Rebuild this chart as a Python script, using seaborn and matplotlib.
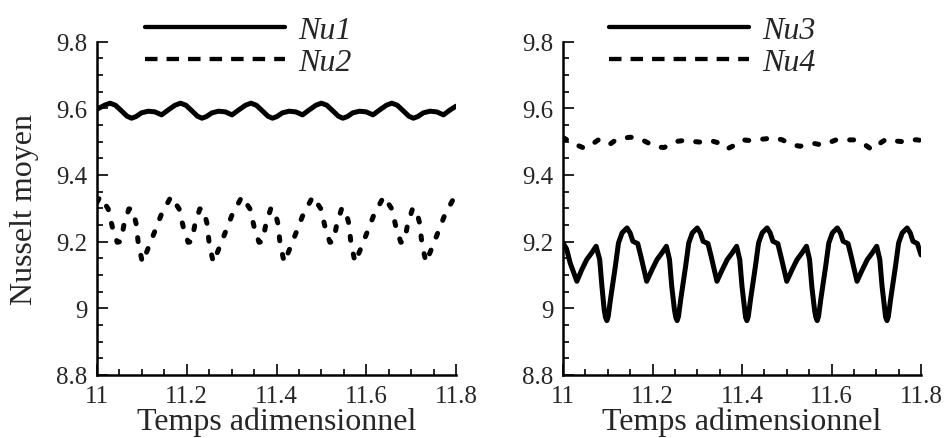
import matplotlib
matplotlib.use("Agg")
import matplotlib.pyplot as plt
import seaborn as sns
from matplotlib.ticker import MultipleLocator, FormatStrFormatter

# ---- donnees ----
nu1_t = [11.000, 11.017,
         11.029, 11.041, 11.053, 11.067, 11.077, 11.087, 11.099, 11.114, 11.129, 11.144, 11.159, 11.174,
         11.186, 11.198, 11.210, 11.224, 11.234, 11.244, 11.256, 11.271, 11.286, 11.301, 11.316, 11.331,
         11.343, 11.355, 11.367, 11.381, 11.391, 11.401, 11.413, 11.428, 11.443, 11.458, 11.473, 11.488,
         11.500, 11.512, 11.524, 11.538, 11.548, 11.558, 11.570, 11.585, 11.600, 11.615, 11.630, 11.645,
         11.657, 11.669, 11.681, 11.695, 11.705, 11.715, 11.727, 11.742, 11.757, 11.772, 11.787, 11.800]
nu1_v = [9.597, 9.609,
         9.615, 9.609, 9.594, 9.576, 9.570, 9.575, 9.586, 9.591, 9.589, 9.580, 9.595, 9.609,
         9.615, 9.609, 9.594, 9.576, 9.570, 9.575, 9.586, 9.591, 9.589, 9.580, 9.595, 9.609,
         9.615, 9.609, 9.594, 9.576, 9.570, 9.575, 9.586, 9.591, 9.589, 9.580, 9.595, 9.609,
         9.615, 9.609, 9.594, 9.576, 9.570, 9.575, 9.586, 9.591, 9.589, 9.580, 9.595, 9.609,
         9.615, 9.609, 9.594, 9.576, 9.570, 9.575, 9.586, 9.591, 9.589, 9.580, 9.595, 9.606]

nu2_t = [11.000, 11.007, 11.025, 11.034, 11.045, 11.053, 11.060, 11.071, 11.079, 11.087, 11.092, 11.101, 11.111, 11.128, 11.143,
         11.165, 11.183, 11.192, 11.203, 11.211, 11.218, 11.229, 11.237, 11.245, 11.250, 11.259, 11.269, 11.286, 11.301,
         11.323, 11.341, 11.350, 11.361, 11.369, 11.376, 11.387, 11.395, 11.403, 11.408, 11.417, 11.427, 11.444, 11.459,
         11.481, 11.499, 11.508, 11.519, 11.527, 11.534, 11.545, 11.553, 11.561, 11.566, 11.575, 11.585, 11.602, 11.617,
         11.639, 11.657, 11.666, 11.677, 11.685, 11.692, 11.703, 11.711, 11.719, 11.724, 11.733, 11.743, 11.760, 11.775,
         11.797, 11.800]
nu2_v = [9.318, 9.335, 9.298, 9.245, 9.198, 9.200, 9.250, 9.298, 9.298, 9.255, 9.195, 9.138, 9.170, 9.228, 9.280,
         9.335, 9.298, 9.245, 9.198, 9.200, 9.250, 9.298, 9.298, 9.255, 9.195, 9.138, 9.170, 9.228, 9.280,
         9.335, 9.298, 9.245, 9.198, 9.200, 9.250, 9.298, 9.298, 9.255, 9.195, 9.138, 9.170, 9.228, 9.280,
         9.335, 9.298, 9.245, 9.198, 9.200, 9.250, 9.298, 9.298, 9.255, 9.195, 9.138, 9.170, 9.228, 9.280,
         9.335, 9.298, 9.245, 9.198, 9.200, 9.250, 9.298, 9.298, 9.255, 9.195, 9.138, 9.170, 9.228, 9.280,
         9.335, 9.333]

nu3_t = [11.000, 11.008, 11.016, 11.031, 11.042, 11.053, 11.064, 11.074, 11.082, 11.087, 11.092, 11.095,
         11.098, 11.101, 11.106, 11.117, 11.124, 11.132, 11.143, 11.150, 11.156, 11.167, 11.174, 11.187, 11.199, 11.210, 11.221, 11.231, 11.238, 11.243, 11.249, 11.252,
         11.255, 11.258, 11.263, 11.274, 11.281, 11.289, 11.300, 11.307, 11.313, 11.324, 11.331, 11.344, 11.356, 11.367, 11.378, 11.388, 11.395, 11.400, 11.406, 11.408,
         11.411, 11.414, 11.419, 11.430, 11.437, 11.445, 11.456, 11.463, 11.469, 11.480, 11.487, 11.500, 11.512, 11.523, 11.534, 11.544, 11.551, 11.556, 11.562, 11.565,
         11.568, 11.571, 11.576, 11.587, 11.594, 11.602, 11.613, 11.620, 11.626, 11.637, 11.644, 11.657, 11.669, 11.680, 11.691, 11.701, 11.708, 11.713, 11.719, 11.721,
         11.724, 11.727, 11.732, 11.743, 11.750, 11.758, 11.769, 11.776, 11.782, 11.792, 11.800]
nu3_v = [9.196, 9.178, 9.136, 9.081, 9.116, 9.146, 9.166, 9.186, 9.146, 9.066, 8.996, 8.973,
         8.963, 8.975, 9.026, 9.126, 9.196, 9.226, 9.241, 9.226, 9.201, 9.194, 9.156, 9.081, 9.116, 9.146, 9.166, 9.186, 9.146, 9.066, 8.996, 8.973,
         8.963, 8.975, 9.026, 9.126, 9.196, 9.226, 9.241, 9.226, 9.201, 9.194, 9.156, 9.081, 9.116, 9.146, 9.166, 9.186, 9.146, 9.066, 8.996, 8.973,
         8.963, 8.975, 9.026, 9.126, 9.196, 9.226, 9.241, 9.226, 9.201, 9.194, 9.156, 9.081, 9.116, 9.146, 9.166, 9.186, 9.146, 9.066, 8.996, 8.973,
         8.963, 8.975, 9.026, 9.126, 9.196, 9.226, 9.241, 9.226, 9.201, 9.194, 9.156, 9.081, 9.116, 9.146, 9.166, 9.186, 9.146, 9.066, 8.996, 8.973,
         8.963, 8.975, 9.026, 9.126, 9.196, 9.226, 9.241, 9.226, 9.201, 9.194, 9.160]

nu4_t = [11.000, 11.013, 11.030, 11.048, 11.065, 11.080, 11.095, 11.105, 11.118, 11.135,
         11.150, 11.170, 11.190, 11.210, 11.225, 11.240, 11.257, 11.275, 11.292, 11.310,
         11.330, 11.350, 11.367, 11.385, 11.402, 11.418, 11.435, 11.452, 11.470, 11.490,
         11.512, 11.530, 11.547, 11.562, 11.578, 11.595, 11.612, 11.630, 11.650, 11.670,
         11.690, 11.705, 11.722, 11.740, 11.757, 11.775, 11.792, 11.800]
nu4_v = [9.512, 9.502, 9.490, 9.480, 9.492, 9.506, 9.500, 9.492, 9.505, 9.510,
         9.513, 9.510, 9.496, 9.484, 9.482, 9.490, 9.501, 9.504, 9.500, 9.498,
         9.503, 9.495, 9.478, 9.490, 9.505, 9.503, 9.506, 9.508, 9.512, 9.505,
         9.490, 9.486, 9.491, 9.494, 9.490, 9.497, 9.506, 9.505, 9.505, 9.495,
         9.476, 9.492, 9.507, 9.502, 9.500, 9.506, 9.505, 9.503]

labels_left = ["Nu1", "Nu2"]
labels_right = ["Nu3", "Nu4"]

sns.set_style("white")
plt.rcParams['font.family'] = ['Liberation Serif', 'DejaVu Serif']

W, H = 946, 439
fig = plt.figure(figsize=(W / 100, H / 100), dpi=100)
ax1 = fig.add_axes([97 / W, 63 / H, 359 / W, 333.5 / H])
ax2 = fig.add_axes([563 / W, 63 / H, 358 / W, 333.5 / H])


def draw(ax, t_a, v_a, t_b, v_b, labels, leg_x):
    sns.lineplot(x=t_a, y=v_a, ax=ax, color='k', lw=3.6, errorbar=None,
                 solid_joinstyle='round', solid_capstyle='round')
    sns.lineplot(x=t_b, y=v_b, ax=ax, color='k', lw=3.6, errorbar=None)
    dashed = ax.lines[1]
    dashed.set_linestyle((0, (0.8, 2.8)))
    dashed.set_dash_capstyle('round')
    dashed.set_dash_joinstyle('round')

    ax.set_xlim(11, 11.8)
    ax.set_ylim(8.8, 9.8)
    ax.xaxis.set_major_locator(MultipleLocator(0.2))
    ax.xaxis.set_minor_locator(MultipleLocator(0.05))
    ax.yaxis.set_major_locator(MultipleLocator(0.2))
    ax.yaxis.set_minor_locator(MultipleLocator(0.05))
    ax.xaxis.set_major_formatter(FormatStrFormatter('%g'))
    ax.yaxis.set_major_formatter(FormatStrFormatter('%g'))
    ax.tick_params(which='both', direction='in', width=1.2, color='k',
                   bottom=True, left=True, top=False, right=False,
                   labelsize=18, pad=7)
    ax.tick_params(which='major', length=8)
    ax.tick_params(which='minor', length=4)
    for s in ['top', 'right']:
        ax.spines[s].set_visible(False)
    for s in ['left', 'bottom']:
        ax.spines[s].set_linewidth(1.8)
        ax.spines[s].set_color('k')
    ax.set_xlabel("Temps adimensionnel", fontsize=23, labelpad=0)

    leg = ax.legend(ax.lines[:2], labels, loc='center left',
                    bbox_to_anchor=(leg_x / W, 1 - 47.5 / H),
                    bbox_transform=fig.transFigure, frameon=False,
                    handlelength=4.39, handletextpad=0.4, labelspacing=0.1,
                    borderpad=0, borderaxespad=0,
                    prop=dict(style='italic', size=23))
    l1, l2 = leg.get_lines()
    l1.set_linewidth(3.1)
    l2.set_linewidth(3.1)
    l2.set_linestyle((0, (2.9, 2.1)))
    l2.set_dash_capstyle('butt')


draw(ax1, nu1_t, nu1_v, nu2_t, nu2_v, labels_left, 145)
draw(ax2, nu3_t, nu3_v, nu4_t, nu4_v, labels_right, 609)
ax1.set_ylabel("Nusselt moyen", fontsize=23, labelpad=12)
ax2.set_ylabel("")

fig.savefig("out.png", dpi=100)
